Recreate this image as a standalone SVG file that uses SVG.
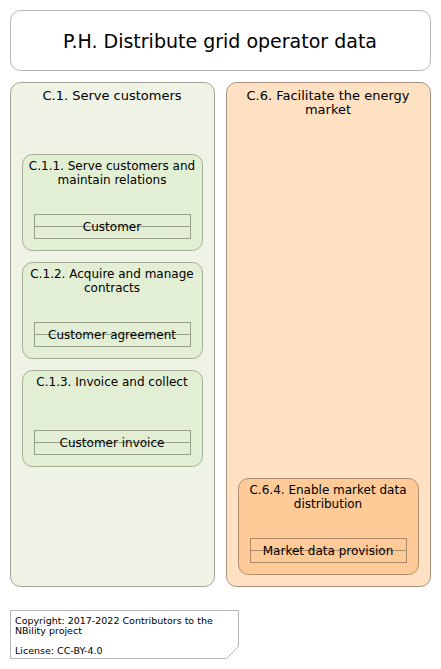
<svg xmlns="http://www.w3.org/2000/svg" width="441" height="669" viewBox="0 0 441 669">
<style>
text{font-family:"DejaVu Sans","Liberation Sans",sans-serif;fill:#000;text-anchor:middle}
.title{font-size:19px}
.h{font-size:13px}
.s{font-size:12px}
.grp1{fill:#eef3e5;stroke:#9fa393;stroke-width:1}
.grp6{fill:#fee0c2;stroke:#a8917c;stroke-width:1}
.sub1{fill:#e3efd5;stroke:#a3ad93;stroke-width:1}
.sub6{fill:#fdca98;stroke:#b08d6c;stroke-width:1}
.obj1{fill:none;stroke:#98a08a;stroke-width:1}
.obj6{fill:none;stroke:#ab8a6a;stroke-width:1}
.foot{font-size:9.5px;text-anchor:start}
</style>
<rect width="441" height="669" fill="#fff"/>
<g id="title">
<rect x="10.5" y="10.5" width="420" height="60" rx="10" fill="#fff" stroke="#b5b5b5"/>
<text class="title" x="220" y="48">P.H. Distribute grid operator data</text>
</g>
<g id="C1">
<rect class="grp1" x="10.5" y="82.5" width="204" height="504" rx="10"/>
<text class="h" x="112" y="100">C.1. Serve customers</text>
</g>
<g id="C6">
<rect class="grp6" x="226.5" y="82.5" width="204" height="504" rx="10"/>
<text class="h" x="328" y="100">C.6. Facilitate the energy</text>
<text class="h" x="328" y="114">market</text>
</g>
<g id="C1.1">
<rect class="sub1" x="22.5" y="154.5" width="180" height="96" rx="10"/>
<text class="s" x="112" y="170">C.1.1. Serve customers and</text>
<text class="s" x="112" y="184">maintain relations</text>
<rect class="obj1" x="34.5" y="214.5" width="156" height="24"/>
<line class="obj1" x1="34.5" y1="226.5" x2="190.5" y2="226.5"/>
<text class="s" x="112" y="231">Customer</text>
</g>
<g id="C1.2">
<rect class="sub1" x="22.5" y="262.5" width="180" height="96" rx="10"/>
<text class="s" x="112" y="278">C.1.2. Acquire and manage</text>
<text class="s" x="112" y="292">contracts</text>
<rect class="obj1" x="34.5" y="322.5" width="156" height="24"/>
<line class="obj1" x1="34.5" y1="334.5" x2="190.5" y2="334.5"/>
<text class="s" x="112" y="339">Customer agreement</text>
</g>
<g id="C1.3">
<rect class="sub1" x="22.5" y="370.5" width="180" height="96" rx="10"/>
<text class="s" x="112" y="386">C.1.3. Invoice and collect</text>
<rect class="obj1" x="34.5" y="430.5" width="156" height="24"/>
<line class="obj1" x1="34.5" y1="442.5" x2="190.5" y2="442.5"/>
<text class="s" x="112" y="447">Customer invoice</text>
</g>
<g id="C6.4">
<rect class="sub6" x="238.5" y="478.5" width="180" height="96" rx="10"/>
<text class="s" x="328" y="494">C.6.4. Enable market data</text>
<text class="s" x="328" y="508">distribution</text>
<rect class="obj6" x="250.5" y="538.5" width="156" height="24"/>
<line class="obj6" x1="250.5" y1="550.5" x2="406.5" y2="550.5"/>
<text class="s" x="328" y="555">Market data provision</text>
</g>
<g id="connectors"></g>
<g id="footer">
<path d="M10.5 610.5 H238.5 V646.5 L226.5 658.5 H10.5 Z" fill="#fff" stroke="#b5b5b5"/>
<text class="foot" x="15" y="624">Copyright: 2017-2022 Contributors to the</text>
<text class="foot" x="15" y="634">NBility project</text>
<text class="foot" x="15" y="654">License: CC-BY-4.0</text>
</g>
</svg>
